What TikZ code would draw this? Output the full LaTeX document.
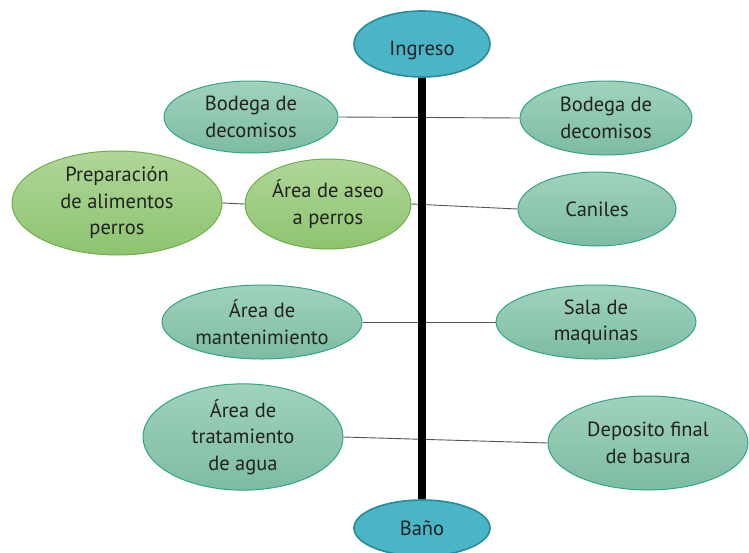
\documentclass[tikz,border=0pt]{standalone}
\usepackage{fontspec}
\setmainfont{PT Sans}
\usetikzlibrary{shapes.geometric}
\definecolor{tealtop}{HTML}{A0D2BC}
\definecolor{tealbot}{HTML}{7DBCA2}
\definecolor{tealline}{HTML}{2FA68A}
\definecolor{greentop}{HTML}{B0D699}
\definecolor{greenbot}{HTML}{8DC46F}
\definecolor{greenline}{HTML}{6FAE4A}
\definecolor{bluefill}{HTML}{4AB5C6}
\definecolor{blueline}{HTML}{268C9C}
\definecolor{textcol}{HTML}{222222}
\definecolor{conn}{HTML}{555555}
\tikzset{
  oval/.style={ellipse, inner sep=0pt, align=center, text=textcol,
    font=\fontsize{20.5}{26.5}\selectfont, line width=1pt},
  tealoval/.style={oval, draw=tealline, top color=tealtop, bottom color=tealbot},
  greenoval/.style={oval, draw=greenline, top color=greentop, bottom color=greenbot},
  blueoval/.style={oval, draw=blueline, line width=1.6pt, fill=bluefill},
  link/.style={draw=conn, line width=0.9pt},
}
\begin{document}
\begin{tikzpicture}[x=1pt,y=-1pt]
\useasboundingbox (0,0) rectangle (749,552);
\node[blueoval, minimum width=136pt, minimum height=66pt, text height=24pt, text depth=2pt] (ing) at (422,44) {Ingreso};
\node[blueoval, minimum width=136pt, minimum height=56pt] (bano) at (422,528) {Baño};

\node[tealoval, minimum width=174pt, minimum height=72pt] (bl) at (251,117) {Bodega de\\decomisos};
\node[tealoval, minimum width=172pt, minimum height=74pt] (br) at (606,118) {Bodega de\\decomisos};
\node[greenoval, minimum width=210pt, minimum height=104pt] (prep) at (117,203) {Preparación\\de alimentos\\perros};
\node[greenoval, minimum width=166pt, minimum height=90pt] (aseo) at (328,204) {Área de aseo\\a perros};
\node[tealoval, minimum width=158pt, minimum height=74pt] (can) at (597,209) {Caniles};
\node[tealoval, minimum width=200pt, minimum height=74pt] (mant) at (262,322) {Área de\\mantenimiento};
\node[tealoval, minimum width=200pt, minimum height=74pt] (sala) at (596,322) {Sala de\\maquinas};
\node[tealoval, minimum width=200pt, minimum height=106pt] (trat) at (243,437) {Área de\\tratamiento\\de agua};
\node[tealoval, minimum width=200pt, minimum height=94pt] (dep) at (648,443) {Deposito final\\de basura};

\draw[link] (bl.east) -- (br.west);
\draw[link] (prep.east) -- (aseo.west);
\draw[link] (aseo.east) -- (can.west);
\draw[link] (mant.east) -- (sala.west);
\draw[link] (trat.east) -- (dep.west);
\draw[line width=8pt] (ing.south) -- (bano.north);
\end{tikzpicture}
\end{document}
